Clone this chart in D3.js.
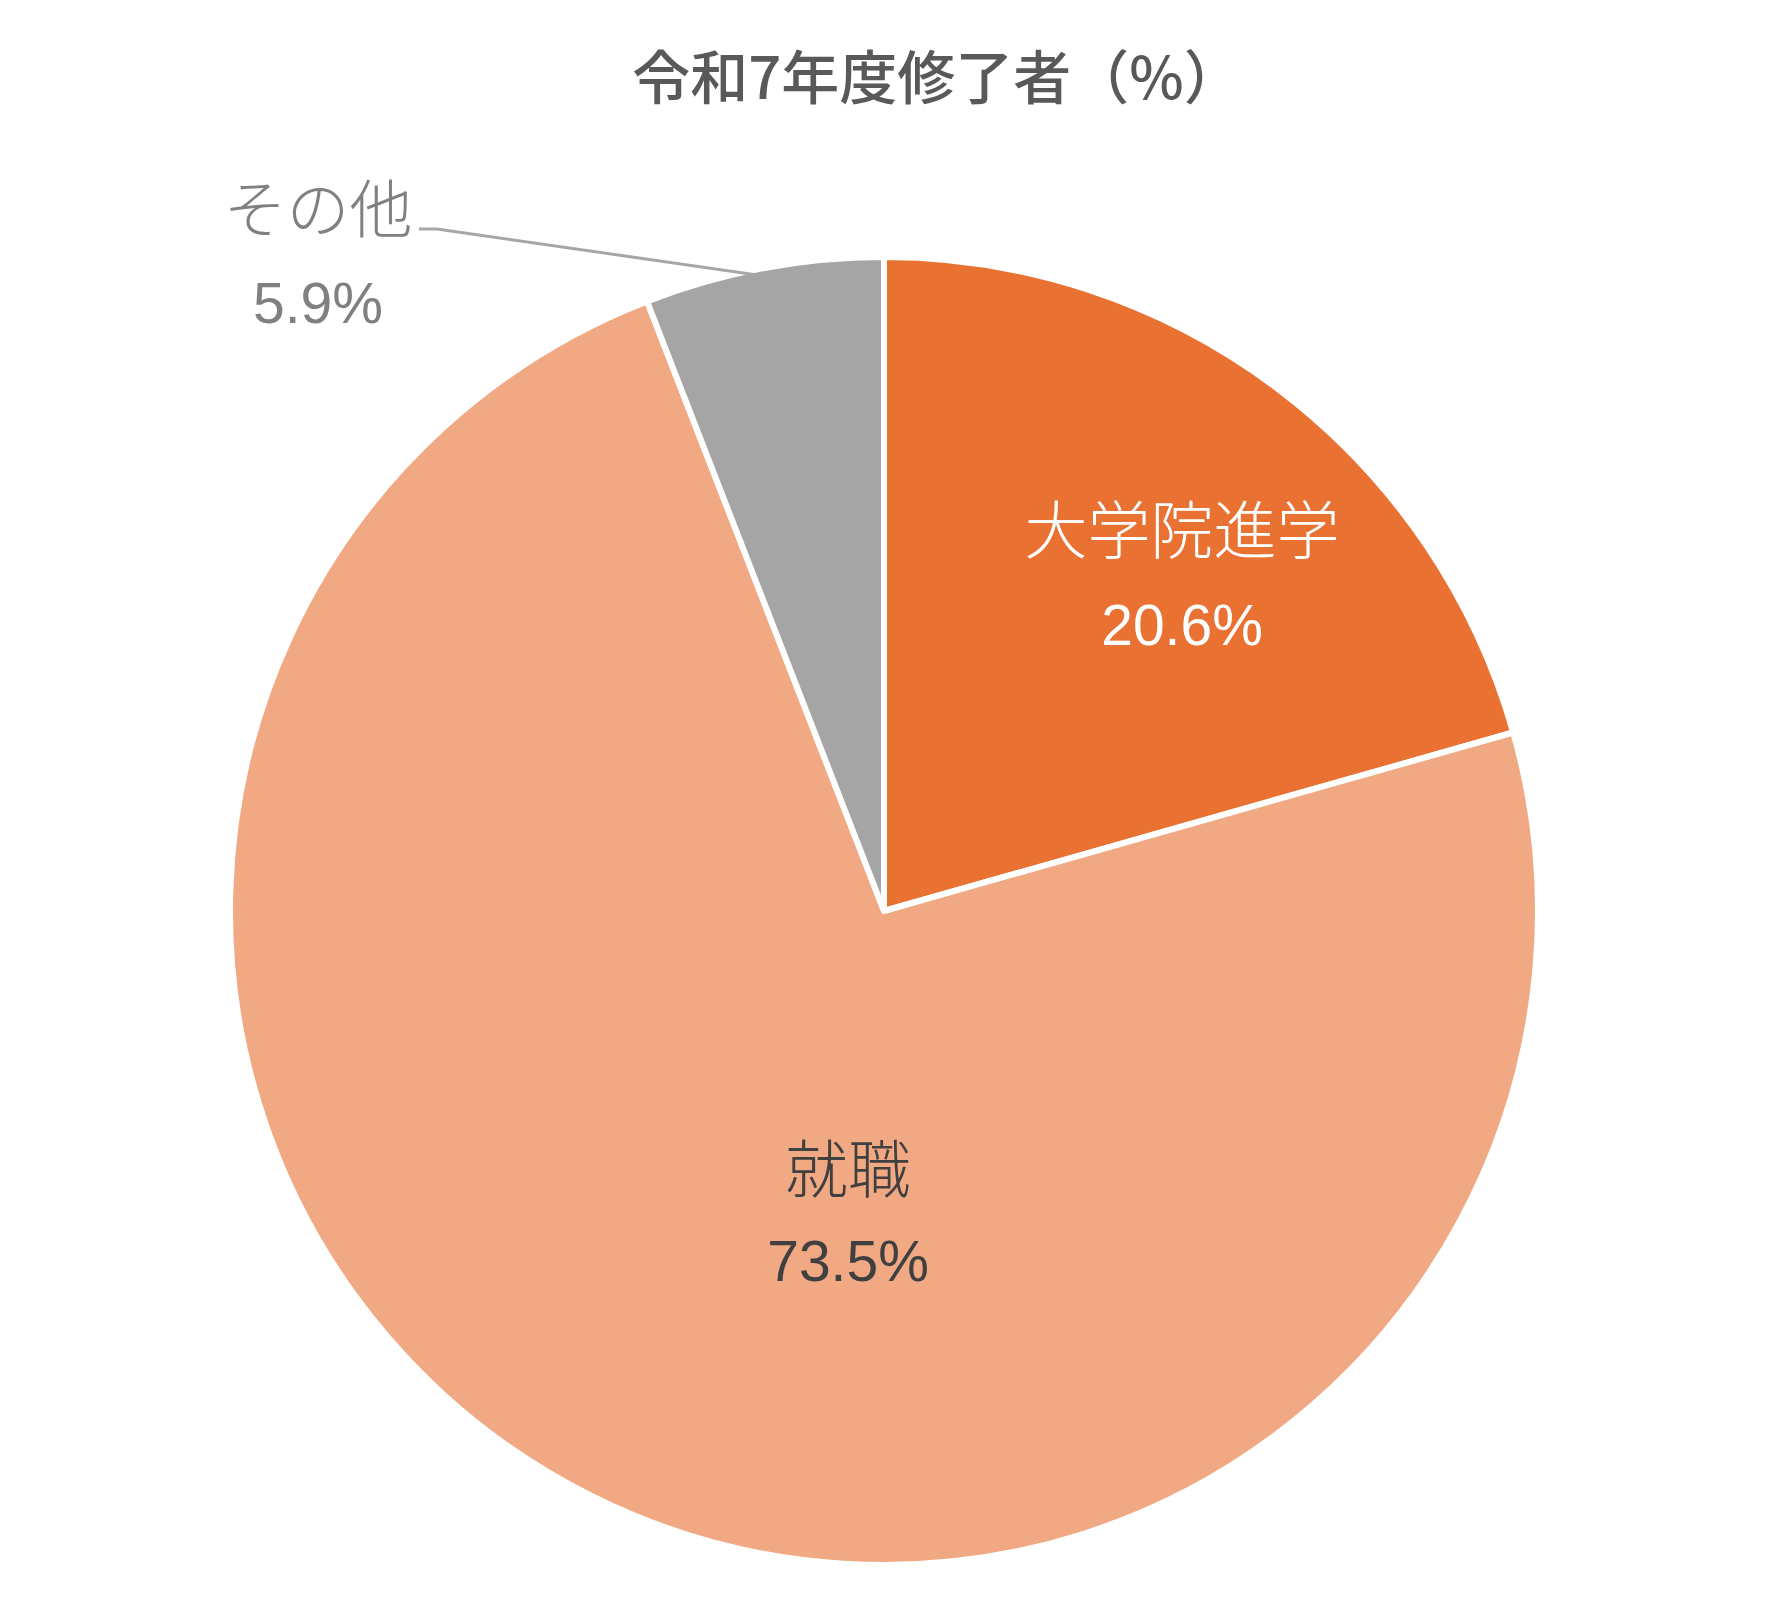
<!DOCTYPE html>
<html><head><meta charset="utf-8">
<script src="https://cdn.jsdelivr.net/npm/d3@7"></script>
<style>body{margin:0;background:#fff}</style>
</head><body>
<svg id="c" width="1767" height="1615"></svg>
<script>
const categories = ["大学院進学", "就職", "その他"];
const values = [20.6, 73.5, 5.9];
const valueLabels = ["20.6%", "73.5%", "5.9%"];
const colors = ["#E97132", "#F1A983", "#A5A5A5"];
const title = "令和7年度修了者（%）";

const svg = d3.select("#c");
const cx = 884, cy = 911, R = 654;
const g = svg.append("g").attr("transform", `translate(${cx},${cy})`);
const pie = d3.pie().sort(null).value(d => d)(values);
const arc = d3.arc().innerRadius(0).outerRadius(R);
g.selectAll("path").data(pie).join("path")
  .attr("d", arc).attr("fill", (d,i) => colors[i])
  .attr("stroke", "#fff").attr("stroke-width", 6).attr("stroke-linejoin", "round");

svg.append("text").attr("x", 937).attr("y", 99).attr("text-anchor", "middle")
  .attr("font-family", "'Noto Sans CJK JP', sans-serif").attr("font-weight", 500)
  .attr("font-size", 58).attr("fill", "#595959").text(title);

// label placement (name baseline, value baseline, center x, colors)
const lab = [
  {x: 1182, y1: 553, y2: 645, c1: "#ffffff", c2: "#ffffff"},
  {x: 848, y1: 1192, y2: 1281, c1: "#404040", c2: "#404040"},
  {x: 318, y1: 232, y2: 323, c1: "#808080", c2: "#808080"}
];
lab.forEach((L, i) => {
  svg.append("text").attr("x", L.x).attr("y", L.y1).attr("text-anchor", "middle")
    .attr("font-family", "'Noto Sans CJK JP', sans-serif").attr("font-weight", 300)
    .attr("font-size", 63).attr("fill", L.c1).text(categories[i]);
  svg.append("text").attr("x", L.x).attr("y", L.y2).attr("text-anchor", "middle")
    .attr("font-family", "'Liberation Sans', Arial, sans-serif")
    .attr("font-size", 57).attr("fill", L.c2).text(valueLabels[i]);
});

// leader line for その他
const a = (pie[2].startAngle + pie[2].endAngle) / 2;
const ex = cx + (R - 8) * Math.sin(a), ey = cy - (R - 8) * Math.cos(a);
svg.append("polyline")
  .attr("points", `419,229 437,229 ${ex},${ey}`)
  .attr("fill", "none").attr("stroke", "#A6A6A6").attr("stroke-width", 3);
</script>
</body></html>
